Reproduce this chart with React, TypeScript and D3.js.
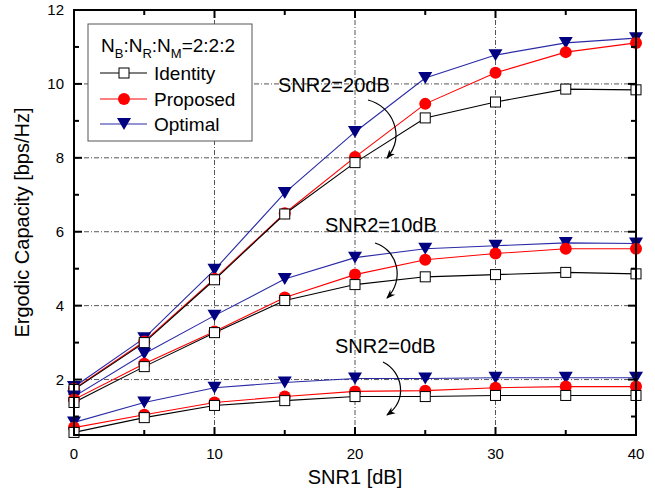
import React from 'react';
import * as d3 from 'd3';

// SNR1 [dB] sample points
const snr1 = [0, 5, 10, 15, 20, 25, 30, 35, 40];

// SNR2 = 20dB
const identity20 = [1.73, 3.0, 4.7, 6.48, 7.87, 9.08, 9.51, 9.86, 9.84];
const proposed20 = [1.75, 3.03, 4.73, 6.5, 8.02, 9.46, 10.3, 10.86, 11.11];
const optimal20 = [1.8, 3.12, 4.97, 7.05, 8.7, 10.16, 10.78, 11.11, 11.24];

// SNR2 = 10dB
const identity10 = [1.38, 2.35, 3.27, 4.14, 4.57, 4.78, 4.84, 4.9, 4.86];
const proposed10 = [1.46, 2.43, 3.3, 4.22, 4.84, 5.24, 5.41, 5.54, 5.54];
const optimal10 = [1.54, 2.7, 3.73, 4.72, 5.3, 5.54, 5.62, 5.7, 5.68];

// SNR2 = 0dB
const identity0 = [0.57, 0.97, 1.3, 1.43, 1.54, 1.54, 1.57, 1.57, 1.57];
const proposed0 = [0.7, 1.05, 1.38, 1.54, 1.68, 1.7, 1.78, 1.81, 1.81];
const optimal0 = [0.84, 1.38, 1.78, 1.92, 2.03, 2.03, 2.05, 2.05, 2.05];

const xTicks = [0, 10, 20, 30, 40];
const xMinor = [5, 15, 25, 35];
const yTicks = [2, 4, 6, 8, 10, 12];
const yMinor = [1, 3, 5, 7, 9, 11];

const margin = {top: 10, right: 19, bottom: 64, left: 74};
const W = 655;
const H = 499;
const font = 'Arial, "Liberation Sans", sans-serif';

const App = () => {
    const x = d3.scaleLinear().domain([0, 40]).range([margin.left, W - margin.right]);
    const y = d3.scaleLinear().domain([0.5, 12]).range([H - margin.bottom, margin.top]);

    const line = (vals: number[]) =>
        d3.line<number>().x((_, i) => x(snr1[i])).y((d) => y(d))(vals) || '';

    const x0 = x.range()[0], x1 = x.range()[1];
    const y0 = y.range()[0], y1 = y.range()[1];

    const tri = (cx: number, cy: number, s: number) =>
        `M${cx - s},${cy - s * 0.85}L${cx + s},${cy - s * 0.85}L${cx},${cy + s * 0.85}Z`;

    const square = (vals: number[], key: string) =>
        vals.map((v, i) => (
            <rect key={key + i} x={x(snr1[i]) - 5} y={y(v) - 5} width={10} height={10}
                fill="white" stroke="black" strokeWidth={1} />
        ));
    const circles = (vals: number[], key: string) =>
        vals.map((v, i) => (
            <circle key={key + i} cx={x(snr1[i])} cy={y(v)} r={6} fill="red" />
        ));
    const triangles = (vals: number[], key: string) =>
        vals.map((v, i) => (
            <path key={key + i} d={tri(x(snr1[i]), y(v), 7)} fill="#000080" />
        ));

    const groups = [
        {id: identity20, pr: proposed20, op: optimal20, k: 'a'},
        {id: identity10, pr: proposed10, op: optimal10, k: 'b'},
        {id: identity0, pr: proposed0, op: optimal0, k: 'c'},
    ];

    const grid = '#555';

    return (
        <svg width={W} height={H} style={{position: 'absolute', left: 0, top: 0}} fontFamily={font}>
            <defs>
                <marker id="arr" viewBox="0 0 10 10" refX="9" refY="5" markerWidth="9" markerHeight="9"
                    orient="auto" markerUnits="userSpaceOnUse">
                    <path d="M0,1 L10,5 L0,9 L3,5 Z" fill="black" />
                </marker>
                <clipPath id="plot">
                    <rect x={x0} y={y1} width={x1 - x0} height={y0 - y1} />
                </clipPath>
            </defs>
            <rect width={W} height={H} fill="white" />

            {/* grid */}
            {xTicks.slice(1, -1).map((t) => (
                <line key={'gx' + t} x1={x(t)} x2={x(t)} y1={y0} y2={y1}
                    stroke={grid} strokeWidth={1} strokeDasharray="5,2,1,2" />
            ))}
            {yTicks.slice(0, -1).map((t) => (
                <line key={'gy' + t} x1={x0} x2={x1} y1={y(t)} y2={y(t)}
                    stroke={grid} strokeWidth={1} strokeDasharray="5,2,1,2" />
            ))}

            {/* series */}
            <g clipPath="url(#plot)">
                {groups.map((g) => (
                    <g key={g.k}>
                        <path d={line(g.op)} fill="none" stroke="#2a2aa6" strokeWidth={1.1} />
                        <path d={line(g.pr)} fill="none" stroke="red" strokeWidth={1.1} />
                        <path d={line(g.id)} fill="none" stroke="black" strokeWidth={1.1} />
                    </g>
                ))}
            </g>
            {groups.map((g) => (
                <g key={'m' + g.k}>
                    {triangles(g.op, 'op' + g.k)}
                    {circles(g.pr, 'pr' + g.k)}
                    {square(g.id, 'id' + g.k)}
                </g>
            ))}

            {/* frame and ticks */}
            <rect x={x0} y={y1} width={x1 - x0} height={y0 - y1} fill="none" stroke="black" strokeWidth={2} />
            {xTicks.map((t) => (
                <g key={'xt' + t}>
                    <line x1={x(t)} x2={x(t)} y1={y0} y2={y0 - 8} stroke="black" strokeWidth={2} />
                    <line x1={x(t)} x2={x(t)} y1={y1} y2={y1 + 8} stroke="black" strokeWidth={2} />
                    <text x={x(t)} y={y0 + 24} textAnchor="middle" fontSize={15}>{t}</text>
                </g>
            ))}
            {xMinor.map((t) => (
                <g key={'xm' + t}>
                    <line x1={x(t)} x2={x(t)} y1={y0} y2={y0 - 5} stroke="black" strokeWidth={2} />
                    <line x1={x(t)} x2={x(t)} y1={y1} y2={y1 + 5} stroke="black" strokeWidth={2} />
                </g>
            ))}
            {yTicks.map((t) => (
                <g key={'yt' + t}>
                    <line x1={x0} x2={x0 + 8} y1={y(t)} y2={y(t)} stroke="black" strokeWidth={2} />
                    <line x1={x1} x2={x1 - 8} y1={y(t)} y2={y(t)} stroke="black" strokeWidth={2} />
                    <text x={x0 - 10} y={y(t) + 5} textAnchor="end" fontSize={15}>{t}</text>
                </g>
            ))}
            {yMinor.map((t) => (
                <g key={'ym' + t}>
                    <line x1={x0} x2={x0 + 5} y1={y(t)} y2={y(t)} stroke="black" strokeWidth={2} />
                    <line x1={x1} x2={x1 - 5} y1={y(t)} y2={y(t)} stroke="black" strokeWidth={2} />
                </g>
            ))}

            {/* axis titles */}
            <text x={(x0 + x1) / 2} y={H - 15} textAnchor="middle" fontSize={20}>SNR1 [dB]</text>
            <text transform={`translate(29,${(y0 + y1) / 2}) rotate(-90)`} textAnchor="middle" fontSize={20}>
                Ergodic Capacity [bps/Hz]
            </text>

            {/* annotations */}
            <g fontSize={20}>
                <text x={278} y={92}>SNR2=20dB</text>
                <text x={325} y={232}>SNR2=10dB</text>
                <text x={335} y={353}>SNR2=0dB</text>
            </g>
            <path d="M368,100 C392,106 406,135 387,158" fill="none" stroke="black" strokeWidth={1.2} markerEnd="url(#arr)" />
            <path d="M375,243 C398,250 405,280 387,298" fill="none" stroke="black" strokeWidth={1.2} markerEnd="url(#arr)" />
            <path d="M383,362 C403,372 408,400 387,415" fill="none" stroke="black" strokeWidth={1.2} markerEnd="url(#arr)" />

            {/* legend */}
            <g>
                <rect x={88} y={24} width={164} height={117} fill="white" stroke="#555" strokeWidth={1} />
                <text x={101} y={52} fontSize={19}>
                    N<tspan fontSize={13} dy={6}>B</tspan><tspan dy={-6}>:N</tspan>
                    <tspan fontSize={13} dy={6}>R</tspan><tspan dy={-6}>:N</tspan>
                    <tspan fontSize={13} dy={6}>M</tspan><tspan dy={-6}>=2:2:2</tspan>
                </text>
                <line x1={100} x2={147} y1={73} y2={73} stroke="black" strokeWidth={1} />
                <rect x={119} y={68} width={10} height={10} fill="white" stroke="black" />
                <text x={154} y={80} fontSize={19}>Identity</text>
                <line x1={100} x2={147} y1={99} y2={99} stroke="red" strokeWidth={1} />
                <circle cx={124} cy={99} r={6} fill="red" />
                <text x={154} y={106} fontSize={19}>Proposed</text>
                <line x1={100} x2={147} y1={124} y2={124} stroke="#2a2aa6" strokeWidth={1} />
                <path d={tri(124, 124, 7)} fill="#000080" />
                <text x={154} y={131} fontSize={19}>Optimal</text>
            </g>
        </svg>
    );
};

export default App;
